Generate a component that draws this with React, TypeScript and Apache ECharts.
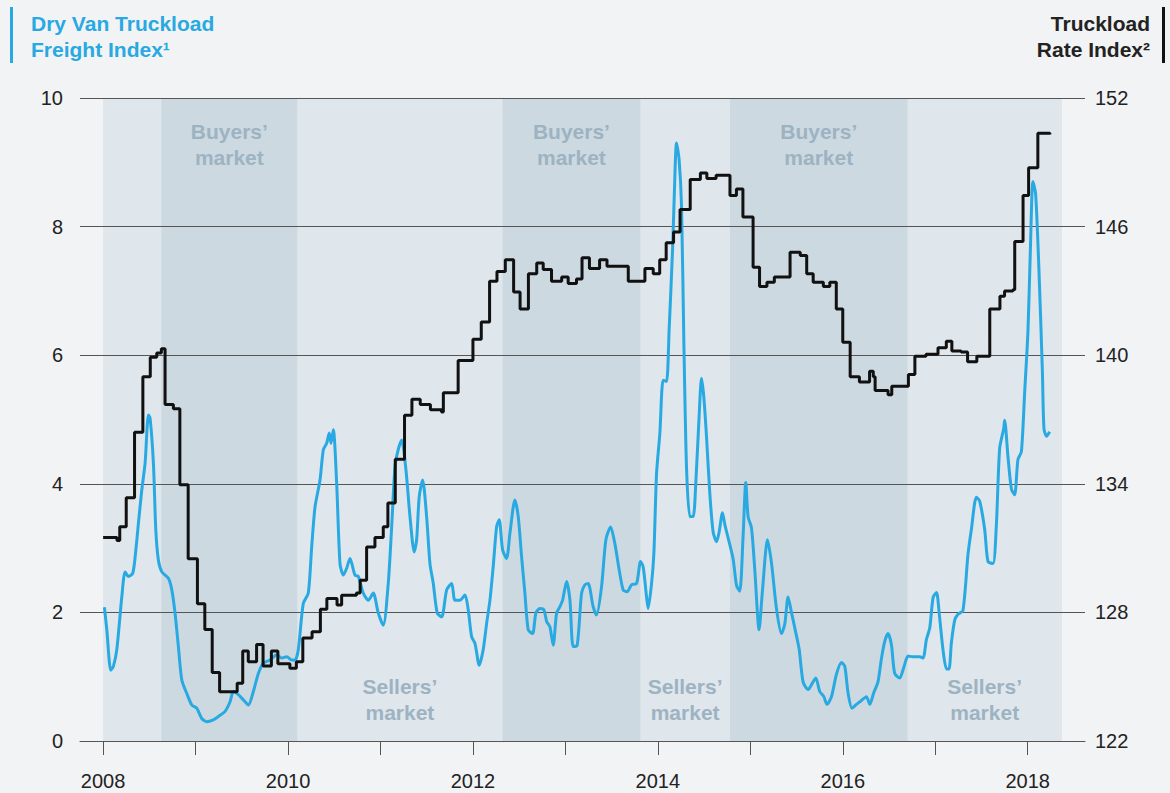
import React, { useEffect, useRef } from "react";
import * as echarts from "echarts";

// Dry Van Truckload Freight Index (left axis)
const freightYears = [
  2008.014, 2008.04, 2008.083, 2008.111, 2008.148, 2008.202, 2008.238, 2008.274, 2008.321, 2008.354,
  2008.382, 2008.418, 2008.454, 2008.49, 2008.508, 2008.544, 2008.57, 2008.598, 2008.635, 2008.706,
  2008.743, 2008.778, 2008.814, 2008.851, 2008.905, 2008.959, 2009.013, 2009.067, 2009.121, 2009.192,
  2009.246, 2009.319, 2009.373, 2009.409, 2009.463, 2009.517, 2009.571, 2009.625, 2009.679, 2009.733,
  2009.805, 2009.878, 2009.932, 2009.986, 2010.04, 2010.076, 2010.111, 2010.165, 2010.219, 2010.256,
  2010.292, 2010.346, 2010.382, 2010.418, 2010.446, 2010.465, 2010.49, 2010.526, 2010.562, 2010.598,
  2010.635, 2010.67, 2010.724, 2010.76, 2010.814, 2010.868, 2010.922, 2010.976, 2011.03, 2011.084,
  2011.121, 2011.157, 2011.192, 2011.229, 2011.276, 2011.319, 2011.365, 2011.391, 2011.419, 2011.456,
  2011.499, 2011.535, 2011.571, 2011.614, 2011.662, 2011.716, 2011.77, 2011.805, 2011.859, 2011.914,
  2011.949, 2011.986, 2012.022, 2012.068, 2012.111, 2012.148, 2012.184, 2012.219, 2012.256, 2012.284,
  2012.321, 2012.364, 2012.4, 2012.454, 2012.49, 2012.526, 2012.562, 2012.598, 2012.645, 2012.681,
  2012.724, 2012.768, 2012.797, 2012.832, 2012.868, 2012.905, 2012.941, 2012.97, 2013.013, 2013.049,
  2013.084, 2013.128, 2013.175, 2013.211, 2013.246, 2013.3, 2013.337, 2013.391, 2013.438, 2013.489,
  2013.535, 2013.582, 2013.625, 2013.668, 2013.716, 2013.77, 2013.813, 2013.841, 2013.878, 2013.895,
  2013.932, 2013.957, 2013.986, 2014.022, 2014.057, 2014.094, 2014.122, 2014.159, 2014.178, 2014.202,
  2014.23, 2014.256, 2014.281, 2014.31, 2014.346, 2014.382, 2014.411, 2014.446, 2014.472, 2014.497,
  2014.526, 2014.562, 2014.598, 2014.635, 2014.663, 2014.699, 2014.724, 2014.76, 2014.814, 2014.851,
  2014.886, 2014.922, 2014.951, 2014.976, 2015.013, 2015.049, 2015.095, 2015.132, 2015.186, 2015.229,
  2015.283, 2015.337, 2015.373, 2015.409, 2015.445, 2015.481, 2015.528, 2015.571, 2015.625, 2015.679,
  2015.708, 2015.751, 2015.795, 2015.83, 2015.878, 2015.932, 2015.986, 2016.022, 2016.057, 2016.1,
  2016.148, 2016.202, 2016.256, 2016.292, 2016.335, 2016.381, 2016.418, 2016.454, 2016.49, 2016.526,
  2016.562, 2016.616, 2016.659, 2016.706, 2016.76, 2016.832, 2016.868, 2016.905, 2016.941, 2016.977,
  2017.014, 2017.042, 2017.085, 2017.122, 2017.149, 2017.175, 2017.211, 2017.246, 2017.3, 2017.355,
  2017.391, 2017.445, 2017.481, 2017.535, 2017.571, 2017.625, 2017.661, 2017.697, 2017.741, 2017.751,
  2017.787, 2017.824, 2017.859, 2017.895, 2017.932, 2017.968, 2018.003, 2018.029, 2018.057, 2018.086,
  2018.122, 2018.159, 2018.176, 2018.204, 2018.238,
];
const freightValues = [
  2.08, 1.73, 1.1, 1.16, 1.42, 2.24, 2.63, 2.56, 2.61, 2.97,
  3.39, 3.9, 4.32, 5.07, 5.02, 4.32, 3.28, 2.81, 2.63, 2.53,
  2.35, 1.99, 1.47, 0.95, 0.74, 0.56, 0.51, 0.35, 0.3, 0.33,
  0.38, 0.46, 0.61, 0.77, 0.72, 0.64, 0.56, 0.77, 1.05, 1.21,
  1.26, 1.34, 1.29, 1.31, 1.26, 1.26, 1.42, 2.14, 2.3, 3.02,
  3.64, 4.06, 4.53, 4.63, 4.79, 4.63, 4.84, 4.01, 2.76, 2.58,
  2.69, 2.84, 2.58, 2.56, 2.3, 2.19, 2.3, 1.99, 1.8, 2.45,
  3.33, 4.27, 4.53, 4.68, 4.21, 3.49, 2.94, 3.13, 3.8, 4.06,
  3.49, 2.76, 2.45, 1.99, 1.93, 2.35, 2.45, 2.19, 2.19, 2.27,
  2.04, 1.62, 1.52, 1.18, 1.42, 1.83, 2.19, 2.71, 3.33, 3.44,
  2.97, 2.84, 3.23, 3.75, 3.49, 2.87, 2.3, 1.73, 1.67, 1.99,
  2.06, 2.04, 1.86, 1.78, 1.49, 1.99, 2.09, 2.19, 2.48, 2.19,
  1.47, 1.49, 2.3, 2.43, 2.45, 2.09, 1.96, 2.4, 3.13, 3.33,
  3.07, 2.66, 2.35, 2.32, 2.43, 2.45, 2.79, 2.71, 2.24, 2.06,
  2.45, 2.92, 4.16, 4.79, 5.61, 5.59, 6.4, 7.64, 8.5, 9.3,
  9.04, 8.32, 6.23, 4.26, 3.49, 3.49, 4.03, 5.04, 5.64, 5.35,
  4.74, 3.85, 3.25, 3.1, 3.25, 3.55, 3.37, 3.16, 2.83, 2.42,
  2.33, 3.19, 4.02, 3.49, 3.31, 2.65, 1.73, 2.35, 3.13, 2.77,
  2.06, 1.67, 1.82, 2.24, 2.0, 1.76, 1.43, 0.92, 0.8, 0.92,
  0.98, 0.77, 0.69, 0.57, 0.69, 1.04, 1.22, 1.16, 0.75, 0.51,
  0.57, 0.63, 0.69, 0.57, 0.75, 0.92, 1.28, 1.55, 1.67, 1.5,
  1.05, 0.98, 1.14, 1.32, 1.31, 1.31, 1.29, 1.58, 1.76, 2.23,
  2.31, 2.0, 1.41, 1.12, 1.12, 1.53, 1.88, 1.97, 2.03, 2.91,
  3.29, 3.79, 3.73, 3.29, 2.79, 2.76, 3.35, 4.55, 4.86, 4.99,
  4.42, 3.92, 3.83, 4.38, 4.5, 5.44, 6.37, 7.63, 8.7, 8.51,
  7.32, 5.75, 4.86, 4.74, 4.81,
];

// Truckload Rate Index (right axis), level from each date onward
const rateYears = [
  2008.0, 2008.15, 2008.18, 2008.25, 2008.34, 2008.43, 2008.51, 2008.58, 2008.63, 2008.67,
  2008.76, 2008.83, 2008.92, 2009.02, 2009.1, 2009.18, 2009.26, 2009.45, 2009.51, 2009.57,
  2009.66, 2009.73, 2009.82, 2009.89, 2010.02, 2010.09, 2010.16, 2010.26, 2010.35, 2010.42,
  2010.53, 2010.58, 2010.74, 2010.78, 2010.85, 2010.94, 2011.03, 2011.08, 2011.16, 2011.26,
  2011.34, 2011.43, 2011.54, 2011.66, 2011.68, 2011.84, 2012.0, 2012.09, 2012.18, 2012.26,
  2012.35, 2012.44, 2012.51, 2012.6, 2012.69, 2012.76, 2012.85, 2012.96, 2013.03, 2013.12,
  2013.18, 2013.26, 2013.37, 2013.45, 2013.68, 2013.86, 2013.95, 2014.02, 2014.09, 2014.17,
  2014.24, 2014.35, 2014.46, 2014.53, 2014.63, 2014.78, 2014.85, 2014.92, 2015.03, 2015.1,
  2015.18, 2015.26, 2015.43, 2015.54, 2015.61, 2015.68, 2015.79, 2015.86, 2015.93, 2016.0,
  2016.08, 2016.18, 2016.29, 2016.33, 2016.35, 2016.49, 2016.53, 2016.71, 2016.78, 2016.9,
  2017.03, 2017.12, 2017.18, 2017.28, 2017.35, 2017.45, 2017.59, 2017.7, 2017.75, 2017.84,
  2017.86, 2017.95, 2018.01, 2018.11, 2018.24,
];
const rateValues = [
  131.5, 131.35, 132.0, 133.35, 136.4, 139.0, 139.9, 140.1, 140.3, 137.7,
  137.5, 133.95, 130.5, 128.4, 127.2, 125.2, 124.3, 124.7, 126.2, 125.7,
  126.5, 125.5, 126.2, 125.6, 125.4, 125.7, 126.8, 127.1, 128.15, 128.65,
  128.35, 128.8, 128.9, 129.5, 131.05, 131.5, 132.0, 133.1, 135.15, 137.2,
  137.95, 137.7, 137.45, 137.35, 138.25, 139.75, 140.75, 141.55, 143.45, 143.9,
  144.45, 142.95, 142.15, 143.8, 144.3, 144.0, 143.45, 143.65, 143.35, 143.55,
  144.55, 144.05, 144.45, 144.15, 143.45, 144.05, 143.8, 144.45, 145.25, 145.75,
  146.8, 148.2, 148.5, 148.25, 148.4, 147.45, 147.75, 146.45, 144.1, 143.2,
  143.4, 143.65, 144.8, 144.65, 143.8, 143.4, 143.2, 143.4, 142.15, 140.6,
  139.0, 138.75, 139.25, 139.0, 138.35, 138.15, 138.55, 139.1, 139.95, 140.05,
  140.35, 140.65, 140.2, 140.15, 139.7, 139.95, 142.15, 142.75, 143.0, 143.05,
  145.3, 147.45, 148.75, 150.35, 150.3,
];

const yearTicks = [2008, 2009, 2010, 2011, 2012, 2013, 2014, 2015, 2016, 2017, 2018];
const yearLabels = [2008, 2010, 2012, 2014, 2016, 2018];
const shadedRange = [2008, 2018.37];
const buyersBands = [
  [2008.63, 2010.1],
  [2012.32, 2013.81],
  [2014.78, 2016.7],
];
const sellersBands = [
  [2010.1, 2012.32],
  [2013.81, 2014.78],
  [2016.7, 2018.37],
];
const buyersLabel = "Buyers’\nmarket";
const sellersLabel = "Sellers’\nmarket";

const FONT = "'Liberation Sans', Arial, Helvetica, sans-serif";
const BLUE = "#29a9e1";
const LIGHT = "#dfe6ec";
const DARK = "#ccd9e1";
const BG = "#f2f3f5";
const LABEL_GREY = "#9db3c2";

export default function App() {
  const ref = useRef<HTMLDivElement>(null);

  useEffect(() => {
    if (!ref.current) return;
    const chart = echarts.init(ref.current, null, { renderer: "svg" });

    const freightData = freightYears.map((y, i) => [y, freightValues[i]]);
    const rateData = rateYears.map((y, i) => [y, rateValues[i]]);

    const bandLabel = (text: string, pos: string, dist: number) => ({
      show: true,
      position: pos,
      distance: dist,
      formatter: text,
      color: LABEL_GREY,
      fontWeight: "bold",
      fontSize: 21,
      lineHeight: 26,
      fontFamily: FONT,
      align: "center",
    });

    const option: any = {
      animation: false,
      backgroundColor: BG,
      textStyle: { fontFamily: FONT },
      grid: { left: 80, right: 85, top: 98, bottom: 52, containLabel: false },
      xAxis: {
        type: "value",
        min: 2007.75,
        max: 2018.62,
        z: 3,
        axisLine: { show: true, lineStyle: { color: "#555", width: 1 } },
        axisTick: {
          show: true,
          length: 14,
          customValues: yearTicks,
          lineStyle: { color: "#555", width: 1 },
        },
        axisLabel: {
          show: true,
          customValues: yearLabels,
          margin: 30,
          fontSize: 20,
          color: "#222",
          fontFamily: FONT,
          formatter: (v: number) => String(Math.round(v)),
        },
        splitLine: { show: false },
      },
      yAxis: [
        {
          type: "value",
          min: 0,
          max: 10,
          interval: 2,
          position: "left",
          z: 3,
          axisLine: { show: false },
          axisTick: { show: false },
          axisLabel: { margin: 17, fontSize: 20, color: "#222", fontFamily: FONT },
          splitLine: { show: true, lineStyle: { color: "#555", width: 1 } },
        },
        {
          type: "value",
          min: 122,
          max: 152,
          interval: 6,
          position: "right",
          z: 3,
          axisLine: { show: false },
          axisTick: { show: false },
          axisLabel: { margin: 10, fontSize: 20, color: "#222", fontFamily: FONT },
          splitLine: { show: false },
        },
      ],
      series: [
        {
          type: "line",
          data: [],
          z: 1,
          silent: true,
          markArea: {
            silent: true,
            itemStyle: { color: LIGHT, opacity: 1 },
            data: [[{ xAxis: shadedRange[0] }, { xAxis: shadedRange[1] }]],
          },
        },
        {
          type: "line",
          data: [],
          z: 1,
          silent: true,
          markArea: {
            silent: true,
            data: [
              ...buyersBands.map((b) => [
                {
                  xAxis: b[0],
                  itemStyle: { color: DARK, opacity: 1 },
                  label: bandLabel(buyersLabel, "insideTop", 20),
                },
                { xAxis: b[1] },
              ]),
              ...sellersBands.map((b) => [
                {
                  xAxis: b[0],
                  itemStyle: { color: LIGHT, opacity: 0 },
                  label: bandLabel(sellersLabel, "insideBottom", 16),
                },
                { xAxis: b[1] },
              ]),
            ],
          },
        },
        {
          name: "Dry Van Truckload Freight Index",
          type: "line",
          yAxisIndex: 0,
          data: freightData,
          showSymbol: false,
          smooth: 0.25,
          z: 5,
          lineStyle: { color: BLUE, width: 3 },
          itemStyle: { color: BLUE },
        },
        {
          name: "Truckload Rate Index",
          type: "line",
          yAxisIndex: 1,
          data: rateData,
          step: "end",
          showSymbol: false,
          z: 6,
          lineStyle: { color: "#111", width: 3 },
          itemStyle: { color: "#111" },
        },
      ],
      graphic: [
        { type: "rect", left: 10, top: 7, shape: { width: 3, height: 56 }, style: { fill: BLUE } },
        {
          type: "text",
          x: 31,
          y: 23,
          style: {
            text: "Dry Van Truckload",
            fill: BLUE,
            font: `bold 21px ${FONT}`,
            textVerticalAlign: "middle",
          },
        },
        {
          type: "text",
          x: 31,
          y: 49,
          style: {
            text: "Freight Index¹",
            fill: BLUE,
            font: `bold 21px ${FONT}`,
            textVerticalAlign: "middle",
          },
        },
        { type: "rect", left: 1162, top: 7, shape: { width: 3, height: 56 }, style: { fill: "#111" } },
        {
          type: "text",
          x: 1150,
          y: 23,
          style: {
            text: "Truckload",
            fill: "#222",
            font: `bold 21px ${FONT}`,
            textAlign: "right",
            textVerticalAlign: "middle",
          },
        },
        {
          type: "text",
          x: 1150,
          y: 49,
          style: {
            text: "Rate Index²",
            fill: "#222",
            font: `bold 21px ${FONT}`,
            textAlign: "right",
            textVerticalAlign: "middle",
          },
        },
      ],
    };

    chart.setOption(option);
    return () => chart.dispose();
  }, []);

  return (
    <div
      ref={ref}
      style={{ position: "absolute", left: 0, top: 0, width: 1170, height: 793, background: BG }}
    />
  );
}
